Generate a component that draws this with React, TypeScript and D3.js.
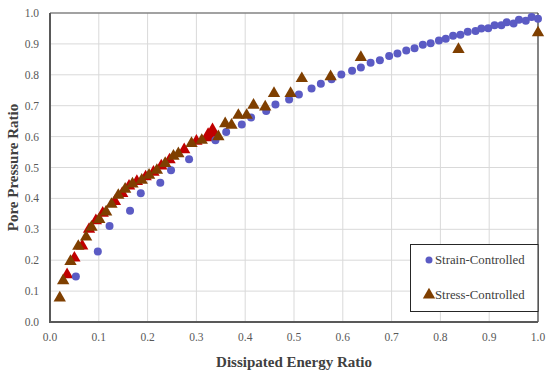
import * as d3 from "d3";

// Strain-controlled tests (dissipated energy ratio, pore pressure ratio)
const strainPoints: [number, number][] = [
  [0.053, 0.147], [0.098, 0.228], [0.122, 0.311], [0.164, 0.36], [0.186, 0.417],
  [0.226, 0.451], [0.248, 0.491], [0.285, 0.527], [0.339, 0.588], [0.361, 0.615],
  [0.393, 0.639], [0.412, 0.662], [0.443, 0.683], [0.462, 0.704], [0.49, 0.72],
  [0.51, 0.736], [0.536, 0.756], [0.555, 0.771], [0.577, 0.786], [0.597, 0.801],
  [0.619, 0.813], [0.637, 0.824], [0.657, 0.839], [0.676, 0.847], [0.695, 0.861],
  [0.712, 0.869], [0.73, 0.879], [0.747, 0.886], [0.764, 0.897], [0.78, 0.902],
  [0.797, 0.911], [0.811, 0.917], [0.826, 0.926], [0.841, 0.93], [0.856, 0.939],
  [0.872, 0.942], [0.884, 0.95], [0.898, 0.951], [0.911, 0.96], [0.925, 0.96],
  [0.936, 0.97], [0.95, 0.966], [0.961, 0.978], [0.975, 0.975], [0.987, 0.987],
  [1.0, 0.981],
];

// Stress-controlled tests
const stressPoints: [number, number][] = [
  [0.02, 0.078], [0.027, 0.134], [0.042, 0.196], [0.058, 0.245], [0.074, 0.275],
  [0.085, 0.307], [0.101, 0.332], [0.115, 0.356], [0.126, 0.381], [0.14, 0.41],
  [0.154, 0.43], [0.169, 0.447], [0.188, 0.459], [0.203, 0.475], [0.219, 0.491],
  [0.236, 0.513], [0.253, 0.537], [0.263, 0.545], [0.29, 0.578], [0.311, 0.588],
  [0.345, 0.6], [0.359, 0.642], [0.372, 0.637], [0.386, 0.669], [0.403, 0.669],
  [0.417, 0.702], [0.441, 0.696], [0.459, 0.74], [0.493, 0.74], [0.516, 0.788],
  [0.575, 0.794], [0.637, 0.856], [0.837, 0.882], [1.0, 0.936],
];

// second stress-controlled run, drawn in red underneath
const stressRedPoints: [number, number][] = [
  [0.035, 0.153], [0.05, 0.207], [0.066, 0.246], [0.08, 0.3], [0.094, 0.328],
  [0.108, 0.352], [0.133, 0.39], [0.148, 0.416], [0.162, 0.44], [0.178, 0.455],
  [0.196, 0.47], [0.212, 0.485], [0.228, 0.505], [0.245, 0.525], [0.275, 0.558],
  [0.3, 0.585], [0.324, 0.6], [0.333, 0.615],
];

const ticks = [0, 0.1, 0.2, 0.3, 0.4, 0.5, 0.6, 0.7, 0.8, 0.9, 1.0];

const width = 550;
const height = 375;
const margin = { top: 13, right: 12, bottom: 53, left: 50 };
const font = "'Liberation Serif', 'Times New Roman', serif";

export default function App() {
  const x = d3.scaleLinear().domain([0, 1]).range([margin.left, width - margin.right]);
  const y = d3.scaleLinear().domain([0, 1]).range([height - margin.bottom, margin.top]);
  const tri = d3.symbol().type(d3.symbolTriangle).size(66)();
  const triBig = d3.symbol().type(d3.symbolTriangle).size(115)();

  const x0 = x(0), x1 = x(1), y0 = y(0), y1 = y(1);

  return (
    <svg width={width} height={height} style={{ position: "absolute", left: 0, top: 0, background: "#fff" }}>
      {/* gridlines */}
      {ticks.slice(1).map(t => (
        <line key={"gx" + t} x1={x(t)} x2={x(t)} y1={y0} y2={y1} stroke="#d9d9d9" strokeWidth={1} />
      ))}
      {ticks.slice(1).map(t => (
        <line key={"gy" + t} x1={x0} x2={x1} y1={y(t)} y2={y(t)} stroke="#d9d9d9" strokeWidth={1} />
      ))}
      {/* frame */}
      <line x1={x0} x2={x1} y1={y1} y2={y1} stroke="#595959" strokeWidth={1} />
      <line x1={x1} x2={x1} y1={y1} y2={y0} stroke="#404040" strokeWidth={1.2} />
      <line x1={x0} x2={x0} y1={y1} y2={y0 + 1} stroke="#595959" strokeWidth={2} />
      <line x1={x0 - 1} x2={x1} y1={y0} y2={y0} stroke="#595959" strokeWidth={2} />

      {/* tick labels */}
      {ticks.map(t => (
        <text key={"tx" + t} x={x(t)} y={y0 + 19} textAnchor="middle" fontFamily={font}
          fontSize={11.5} fill="#595959">{t.toFixed(1)}</text>
      ))}
      {ticks.map(t => (
        <text key={"ty" + t} x={x0 - 11} y={y(t) + 4} textAnchor="end" fontFamily={font}
          fontSize={11.5} fill="#595959">{t.toFixed(1)}</text>
      ))}

      {/* axis titles */}
      <text x={(x0 + x1) / 2} y={367} textAnchor="middle" fontFamily={font} fontSize={15}
        fontWeight="bold" fill="#404040">Dissipated Energy Ratio</text>
      <text transform={`translate(18,${(y0 + y1) / 2}) rotate(-90)`} textAnchor="middle"
        fontFamily={font} fontSize={15} fontWeight="bold" fill="#404040">Pore Pressure Ratio</text>

      {/* data */}
      {stressRedPoints.map((d, i) => (
        <path key={"r" + i} d={i >= stressRedPoints.length - 2 ? triBig : tri}
          transform={`translate(${x(d[0])},${y(d[1])})`} fill="#c00000" />
      ))}
      {strainPoints.map((d, i) => (
        <circle key={"c" + i} cx={x(d[0])} cy={y(d[1])} r={4} fill="#5b5bc4" />
      ))}
      {stressPoints.map((d, i) => (
        <path key={"s" + i} d={tri} transform={`translate(${x(d[0])},${y(d[1])})`} fill="#7f3f00" />
      ))}

      {/* legend */}
      <rect x={410.5} y={244.5} width={127.5} height={67} fill="#fff" stroke="#262626" strokeWidth={1} />
      <circle cx={429} cy={260} r={3.5} fill="#5b5bc4" />
      <text x={435} y={264} fontFamily={font} fontSize={12.8} fill="#404040">Strain-Controlled</text>
      <path d={tri} transform={`translate(429,295)`} fill="#7f3f00" />
      <text x={435} y={299} fontFamily={font} fontSize={12.8} fill="#404040">Stress-Controlled</text>
    </svg>
  );
}
